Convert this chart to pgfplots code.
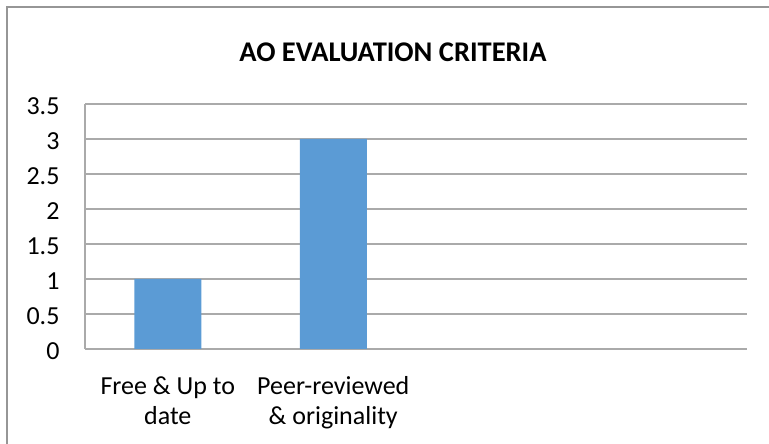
\documentclass[border=0pt]{standalone}
\usepackage{pgfplots}
\pgfplotsset{compat=1.18}
\usepackage{fontspec}
\setmainfont{Carlito}
\definecolor{barblue}{HTML}{5B9BD5}
\definecolor{gridgray}{RGB}{170,170,170}
\definecolor{framegray}{RGB}{150,150,150}
\begin{document}
\begin{tikzpicture}[x=1pt,y=1pt]
\useasboundingbox (0,0) rectangle (769,444);
\draw[framegray,line width=1.5pt] (7,0) -- (7,437) -- (769,437);
\node[font=\fontsize{28.5}{34}\selectfont\bfseries] at (393,392) {AO EVALUATION CRITERIA};
\begin{axis}[
  at={(85pt,95pt)}, anchor=south west,
  scale only axis, width=662pt, height=245pt,
  ybar, bar width=67pt,
  xmin=-0.5, xmax=3.5, ymin=0, ymax=3.5,
  xtick={0,1}, xticklabels={Free \& Up to\\date, Peer-reviewed\\\& originality},
  xticklabel style={align=center, font=\fontsize{26}{30}\selectfont, yshift=-24pt},
  ytick={0,0.5,1,1.5,2,2.5,3,3.5},
  yticklabel style={font=\fontsize{26}{30}\selectfont, xshift=-22pt, yshift=-2pt},
  /pgf/number format/assume math mode=true,
  ymajorgrids, grid style={gridgray, line width=1.2pt},
  axis x line*=bottom, axis y line*=left,
  axis line style={gridgray, line width=1.2pt, -},
  major tick length=0pt,
  tick style={draw=none},
]
\addplot[fill=barblue, draw=none] coordinates {(0,1) (1,3)};
\end{axis}
\end{tikzpicture}
\end{document}
